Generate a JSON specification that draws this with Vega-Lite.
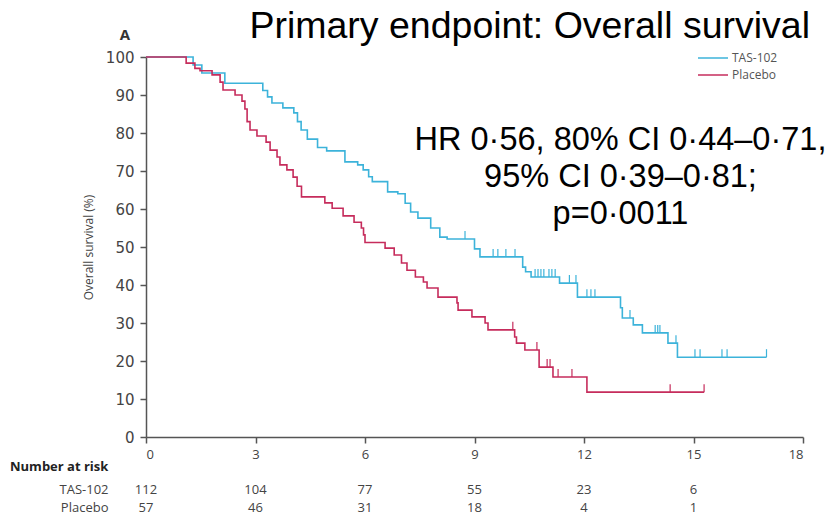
{
  "$schema": "https://vega.github.io/schema/vega-lite/v6.json",
  "padding": {"left": 10, "top": 8, "right": 0, "bottom": 0},
  "spacing": -1,
  "config": {"view": {"stroke": null}, "font": "Liberation Sans"},
  "datasets": {
    "km": [
      {"g": "TAS-102", "t": 0, "s": 100},
      {"g": "TAS-102", "t": 1.29, "s": 97.9},
      {"g": "TAS-102", "t": 1.53, "s": 95.8},
      {"g": "TAS-102", "t": 2.16, "s": 93.1},
      {"g": "TAS-102", "t": 3.2, "s": 91.2},
      {"g": "TAS-102", "t": 3.33, "s": 89.5},
      {"g": "TAS-102", "t": 3.45, "s": 87.9},
      {"g": "TAS-102", "t": 3.75, "s": 86.6},
      {"g": "TAS-102", "t": 4.05, "s": 85.3},
      {"g": "TAS-102", "t": 4.15, "s": 83},
      {"g": "TAS-102", "t": 4.25, "s": 80.8},
      {"g": "TAS-102", "t": 4.42, "s": 78.4},
      {"g": "TAS-102", "t": 4.7, "s": 76.2},
      {"g": "TAS-102", "t": 4.95, "s": 75.3},
      {"g": "TAS-102", "t": 5.45, "s": 72.4},
      {"g": "TAS-102", "t": 5.8, "s": 71.6},
      {"g": "TAS-102", "t": 5.95, "s": 70.3},
      {"g": "TAS-102", "t": 6.1, "s": 68.5},
      {"g": "TAS-102", "t": 6.2, "s": 67.2},
      {"g": "TAS-102", "t": 6.62, "s": 64.5},
      {"g": "TAS-102", "t": 6.9, "s": 64},
      {"g": "TAS-102", "t": 7.1, "s": 61.5},
      {"g": "TAS-102", "t": 7.25, "s": 59.2},
      {"g": "TAS-102", "t": 7.45, "s": 57.6},
      {"g": "TAS-102", "t": 7.8, "s": 55},
      {"g": "TAS-102", "t": 8.05, "s": 52.6},
      {"g": "TAS-102", "t": 8.25, "s": 52.1},
      {"g": "TAS-102", "t": 9.0, "s": 49.5},
      {"g": "TAS-102", "t": 9.15, "s": 47.4},
      {"g": "TAS-102", "t": 10.32, "s": 44.7},
      {"g": "TAS-102", "t": 10.4, "s": 43.5},
      {"g": "TAS-102", "t": 10.55, "s": 42.1},
      {"g": "TAS-102", "t": 11.33, "s": 40.5},
      {"g": "TAS-102", "t": 11.82, "s": 36.8},
      {"g": "TAS-102", "t": 13.0, "s": 34},
      {"g": "TAS-102", "t": 13.05, "s": 31.3},
      {"g": "TAS-102", "t": 13.35, "s": 29.5},
      {"g": "TAS-102", "t": 13.6, "s": 27.4},
      {"g": "TAS-102", "t": 14.3, "s": 24.7},
      {"g": "TAS-102", "t": 14.56, "s": 21},
      {"g": "TAS-102", "t": 17.0, "s": 21},
      {"g": "Placebo", "t": 0, "s": 100},
      {"g": "Placebo", "t": 1.1, "s": 98.4},
      {"g": "Placebo", "t": 1.34, "s": 97},
      {"g": "Placebo", "t": 1.48, "s": 96.4},
      {"g": "Placebo", "t": 1.81, "s": 95.3},
      {"g": "Placebo", "t": 2.03, "s": 93.4},
      {"g": "Placebo", "t": 2.11, "s": 91.3},
      {"g": "Placebo", "t": 2.44, "s": 90},
      {"g": "Placebo", "t": 2.63, "s": 88.4},
      {"g": "Placebo", "t": 2.71, "s": 86.3},
      {"g": "Placebo", "t": 2.77, "s": 83},
      {"g": "Placebo", "t": 2.85, "s": 80.8},
      {"g": "Placebo", "t": 3.04, "s": 79.2},
      {"g": "Placebo", "t": 3.29, "s": 77.6},
      {"g": "Placebo", "t": 3.4, "s": 75.5},
      {"g": "Placebo", "t": 3.59, "s": 73.7},
      {"g": "Placebo", "t": 3.67, "s": 71.6},
      {"g": "Placebo", "t": 3.86, "s": 70.3},
      {"g": "Placebo", "t": 4.03, "s": 68.4},
      {"g": "Placebo", "t": 4.14, "s": 66},
      {"g": "Placebo", "t": 4.26, "s": 63.2},
      {"g": "Placebo", "t": 4.9, "s": 61.6},
      {"g": "Placebo", "t": 5.1, "s": 60.2},
      {"g": "Placebo", "t": 5.4, "s": 58.2},
      {"g": "Placebo", "t": 5.7, "s": 56.5},
      {"g": "Placebo", "t": 5.9, "s": 55},
      {"g": "Placebo", "t": 5.96, "s": 53.2},
      {"g": "Placebo", "t": 6.0, "s": 51.2},
      {"g": "Placebo", "t": 6.55, "s": 49.7},
      {"g": "Placebo", "t": 6.8, "s": 47.9},
      {"g": "Placebo", "t": 7.0, "s": 45.8},
      {"g": "Placebo", "t": 7.15, "s": 43.9},
      {"g": "Placebo", "t": 7.38, "s": 42.1},
      {"g": "Placebo", "t": 7.6, "s": 40.8},
      {"g": "Placebo", "t": 7.7, "s": 39.2},
      {"g": "Placebo", "t": 8.0, "s": 36.8},
      {"g": "Placebo", "t": 8.52, "s": 35.3},
      {"g": "Placebo", "t": 8.55, "s": 33.4},
      {"g": "Placebo", "t": 8.93, "s": 31.6},
      {"g": "Placebo", "t": 9.29, "s": 30},
      {"g": "Placebo", "t": 9.37, "s": 28.2},
      {"g": "Placebo", "t": 10.1, "s": 26.3},
      {"g": "Placebo", "t": 10.15, "s": 24.7},
      {"g": "Placebo", "t": 10.38, "s": 22.9},
      {"g": "Placebo", "t": 10.77, "s": 18.4},
      {"g": "Placebo", "t": 11.15, "s": 15.8},
      {"g": "Placebo", "t": 12.08, "s": 11.8},
      {"g": "Placebo", "t": 15.29, "s": 11.8}
    ],
    "censor": [
      {"g": "TAS-102", "t": 8.74, "s": 52.1},
      {"g": "TAS-102", "t": 9.51, "s": 47.4},
      {"g": "TAS-102", "t": 9.64, "s": 47.4},
      {"g": "TAS-102", "t": 9.86, "s": 47.4},
      {"g": "TAS-102", "t": 10.11, "s": 47.4},
      {"g": "TAS-102", "t": 10.66, "s": 42.1},
      {"g": "TAS-102", "t": 10.74, "s": 42.1},
      {"g": "TAS-102", "t": 10.82, "s": 42.1},
      {"g": "TAS-102", "t": 10.9, "s": 42.1},
      {"g": "TAS-102", "t": 11.04, "s": 42.1},
      {"g": "TAS-102", "t": 11.12, "s": 42.1},
      {"g": "TAS-102", "t": 11.21, "s": 42.1},
      {"g": "TAS-102", "t": 11.6, "s": 40.5},
      {"g": "TAS-102", "t": 11.78, "s": 40.5},
      {"g": "TAS-102", "t": 12.08, "s": 36.8},
      {"g": "TAS-102", "t": 12.19, "s": 36.8},
      {"g": "TAS-102", "t": 12.3, "s": 36.8},
      {"g": "TAS-102", "t": 13.26, "s": 31.3},
      {"g": "TAS-102", "t": 13.95, "s": 27.4},
      {"g": "TAS-102", "t": 14.02, "s": 27.4},
      {"g": "TAS-102", "t": 14.08, "s": 27.4},
      {"g": "TAS-102", "t": 14.52, "s": 24.7},
      {"g": "TAS-102", "t": 15.04, "s": 21},
      {"g": "TAS-102", "t": 15.18, "s": 21},
      {"g": "TAS-102", "t": 15.78, "s": 21},
      {"g": "TAS-102", "t": 15.92, "s": 21},
      {"g": "TAS-102", "t": 17.0, "s": 21},
      {"g": "Placebo", "t": 10.05, "s": 28.2},
      {"g": "Placebo", "t": 10.71, "s": 22.9},
      {"g": "Placebo", "t": 10.99, "s": 18.4},
      {"g": "Placebo", "t": 11.07, "s": 18.4},
      {"g": "Placebo", "t": 11.29, "s": 15.8},
      {"g": "Placebo", "t": 11.67, "s": 15.8},
      {"g": "Placebo", "t": 14.36, "s": 11.8},
      {"g": "Placebo", "t": 15.29, "s": 11.8}
    ],
    "risk": [
      {"g": "TAS-102", "t": 0, "n": 112},
      {"g": "TAS-102", "t": 3, "n": 104},
      {"g": "TAS-102", "t": 6, "n": 77},
      {"g": "TAS-102", "t": 9, "n": 55},
      {"g": "TAS-102", "t": 12, "n": 23},
      {"g": "TAS-102", "t": 15, "n": 6},
      {"g": "Placebo", "t": 0, "n": 57},
      {"g": "Placebo", "t": 3, "n": 46},
      {"g": "Placebo", "t": 6, "n": 31},
      {"g": "Placebo", "t": 9, "n": 18},
      {"g": "Placebo", "t": 12, "n": 4},
      {"g": "Placebo", "t": 15, "n": 1}
    ]
  },
  "vconcat": [
    {
      "width": 657,
      "height": 380,
      "title": {"text": "Primary endpoint: Overall survival", "anchor": "end", "frame": "group", "fontSize": 37.5, "fontWeight": "normal", "font": "Liberation Sans", "color": "#000000", "offset": -18, "dx": 7},
      "encoding": {
        "x": {"type": "quantitative", "scale": {"domain": [0, 18], "nice": false},
          "axis": {"values": [0, 3, 6, 9, 12, 15, 18], "title": null, "grid": false, "tickSize": 6, "domainColor": "#555555", "tickColor": "#555555", "domainWidth": 1.5, "tickWidth": 1.5, "labelFont": "Open Sans", "labelFontSize": 13, "labelColor": "#444444", "labelPadding": 5}},
        "y": {"type": "quantitative", "scale": {"domain": [0, 100], "nice": false},
          "axis": {"values": [0, 10, 20, 30, 40, 50, 60, 70, 80, 90, 100], "tickCount": 11, "labelOverlap": false, "title": "Overall survival (%)", "titleFont": "Open Sans", "titleFontSize": 12, "titleFontWeight": "normal", "titleColor": "#444444", "titlePadding": 10, "grid": false, "tickSize": 6, "domainColor": "#555555", "tickColor": "#555555", "domainWidth": 1.5, "tickWidth": 1.5, "labelFont": "DejaVu Sans", "labelFontSize": 15, "labelColor": "#444444", "labelPadding": 6}}
      },
      "layer": [
        {
          "data": {"name": "km"},
          "mark": {"type": "line", "interpolate": "step-after", "strokeWidth": 1.6},
          "encoding": {
            "x": {"field": "t"},
            "y": {"field": "s"},
            "color": {"field": "g", "type": "nominal", "scale": {"domain": ["TAS-102", "Placebo"], "range": ["#3cb3da", "#c62c5c"]},
              "legend": {"orient": "none", "legendX": 556, "legendY": -10, "title": null, "symbolType": "M-1.5,0H1.5", "symbolSize": 400, "symbolStrokeWidth": 1.5, "labelFont": "Open Sans", "labelFontSize": 12, "labelColor": "#555555", "labelOffset": 8, "rowPadding": -4}}
          }
        },
        {
          "data": {"name": "censor"},
          "mark": {"type": "tick", "orient": "vertical", "size": 8, "thickness": 1.2, "yOffset": -4, "opacity": 1},
          "encoding": {
            "x": {"field": "t"},
            "y": {"field": "s"},
            "color": {"field": "g", "type": "nominal"}
          }
        },
        {
          "data": {"values": [{"lbl": "A", "t": -0.58, "s": 105.8}]},
          "mark": {"type": "text", "fontSize": 15, "fontWeight": "bold", "color": "#333333", "font": "Open Sans", "align": "center", "baseline": "middle"},
          "encoding": {"x": {"field": "t"}, "y": {"field": "s"}, "text": {"field": "lbl"}}
        },
        {
          "data": {"values": [{"t": 13.0, "s": 78.2}]},
          "mark": {"type": "text", "text": ["HR 0·56, 80% CI 0·44–0·71,", "95% CI 0·39–0·81;", "p=0·0011"], "fontSize": 32.5, "font": "Liberation Sans", "color": "#000000", "align": "center", "baseline": "middle", "lineHeight": 37},
          "encoding": {"x": {"field": "t"}, "y": {"field": "s"}}
        }
      ]
    },
    {
      "width": 657,
      "height": 27,
      "title": {"text": "Number at risk", "anchor": "start", "frame": "group", "dx": -136, "fontSize": 13, "fontWeight": "bold", "font": "Open Sans", "color": "#222222", "offset": 10},
      "data": {"name": "risk"},
      "mark": {"type": "text", "font": "Open Sans", "fontSize": 13, "color": "#444444", "baseline": "middle"},
      "encoding": {
        "x": {"field": "t", "type": "quantitative", "scale": {"domain": [0, 18], "nice": false}, "axis": null},
        "y": {"field": "g", "type": "nominal", "scale": {"type": "point", "domain": ["TAS-102", "Placebo"], "padding": 0.25},
          "axis": {"title": null, "domain": false, "ticks": false, "labelPadding": 38, "labelFont": "Open Sans", "labelFontSize": 13, "labelColor": "#444444"}},
        "text": {"field": "n", "type": "nominal"}
      }
    }
  ]
}
